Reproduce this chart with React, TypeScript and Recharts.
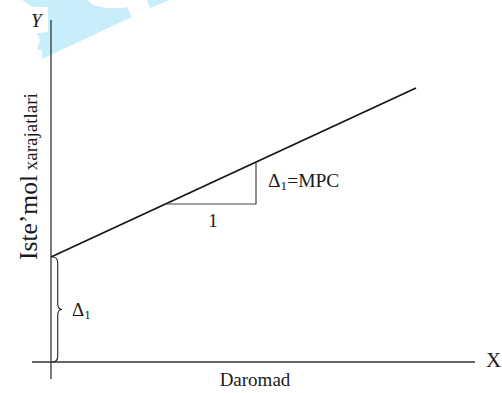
import React from "react";
import {
  ComposedChart,
  Line,
  XAxis,
  YAxis,
  ReferenceLine,
  ReferenceArea,
  ReferenceDot,
} from "recharts";

// 1 unit ~ 10px, origin sits at the axes crossing
const xDomain = [-5.1, 45.1];
const yDomain = [-3.1, 36.2];

const consumptionLine = [
  { x: 0, y: 10.5 },
  { x: 36.5, y: 27.4 },
];
const slopeTriangle = [
  { x: 11.5, y: 15.8 },
  { x: 20.5, y: 15.8 },
  { x: 20.5, y: 19.9 },
];
const yAxisSpan = [
  { x: 0, y: -1.7 },
  { x: 0, y: 34.2 },
];
const xAxisSpan = [
  { x: -1.9, y: 0 },
  { x: 42.4, y: 0 },
];
const braceSpan = { x1: 0.15, x2: 1.1, y1: 0, y2: 10.5 };

// light cyan watermark in the top-left corner
const watermarkMain = [
  { x: -2.9, y: 36.2 },
  { x: 3.6, y: 36.2 },
  { x: 4.2, y: 35.7 },
  { x: 5.4, y: 35.4 },
  { x: 6.9, y: 35.4 },
  { x: 7.6, y: 35.5 },
  { x: 8.1, y: 34.5 },
  { x: -0.9, y: 30.3 },
  { x: -0.9, y: 31.2 },
  { x: -1.4, y: 31.2 },
  { x: -1.1, y: 32.2 },
  { x: -1.4, y: 32.9 },
  { x: -0.3, y: 33.0 },
  { x: -0.3, y: 35.5 },
  { x: -1.8, y: 35.5 },
];
const watermarkTip = [
  { x: 9.6, y: 36.2 },
  { x: 11.9, y: 36.2 },
  { x: 9.9, y: 35.4 },
];

const labels = [
  { key: "Y", x: -2.0, y: 33.5, main: "Y", anchor: "start", italic: true, size: 19 },
  { key: "X", x: 43.5, y: -0.5, main: "X", anchor: "start", size: 21 },
  { key: "daromad", x: 20.4, y: -2.4, main: "Daromad", anchor: "middle", size: 19 },
  { key: "one", x: 16.2, y: 13.5, main: "1", anchor: "middle", size: 19 },
  { key: "mpc", x: 21.7, y: 17.5, main: "Δ", sub: "1", rest: "=MPC", anchor: "start", size: 19.5 },
  { key: "delta", x: 2.1, y: 4.6, main: "Δ", sub: "1", anchor: "start", size: 19 },
];
const yTitleBig = "Iste’mol";
const yTitleSmall = "xarajatlari";
const yTitlePos = { x: -1.4, y: 10.2 };

const FONT = "Liberation Serif, Times New Roman, serif";

function boxMapper(props: any, box: { x1: number; x2: number; y1: number; y2: number }) {
  const { x, y, width, height } = props;
  return (p: { x: number; y: number }) => [
    x + ((p.x - box.x1) / (box.x2 - box.x1)) * width,
    y + ((box.y2 - p.y) / (box.y2 - box.y1)) * height,
  ];
}

function bbox(pts: { x: number; y: number }[]) {
  const xs = pts.map((p) => p.x);
  const ys = pts.map((p) => p.y);
  return { x1: Math.min(...xs), x2: Math.max(...xs), y1: Math.min(...ys), y2: Math.max(...ys) };
}

const polygonShape = (pts: { x: number; y: number }[]) => (props: any) => {
  const map = boxMapper(props, bbox(pts));
  const d = pts.map((p) => map(p).join(",")).join(" ");
  return <polygon points={d} fill="#c8eefb" stroke="none" />;
};

const BraceShape = (props: any) => {
  const { x, y, width, height } = props;
  const x0 = x;
  const x1 = x + width * 0.55;
  const x2 = x + width;
  const ym = y + height / 2;
  const r = 6;
  const d = `M${x0},${y} Q${x1},${y} ${x1},${y + r} L${x1},${ym - r} Q${x1},${ym} ${x2},${ym} Q${x1},${ym} ${x1},${ym + r} L${x1},${y + height - r} Q${x1},${y + height} ${x0},${y + height}`;
  return <path d={d} fill="none" stroke="#222" strokeWidth={1.1} />;
};

const TextShape = (l: any) => (props: any) => {
  const { cx, cy } = props;
  return (
    <text
      x={cx}
      y={cy}
      textAnchor={l.anchor}
      style={{ fontFamily: FONT, fontSize: l.size, fontStyle: l.italic ? "italic" : "normal" }}
      fill="#1a1a1a"
    >
      {l.main}
      {l.sub && (
        <tspan style={{ fontSize: l.size * 0.68 }} dy={3}>
          {l.sub}
        </tspan>
      )}
      {l.rest && <tspan dy={-3}>{l.rest}</tspan>}
    </text>
  );
};

const YTitleShape = (props: any) => {
  const { cx, cy } = props;
  return (
    <text
      x={cx}
      y={cy}
      transform={`rotate(-90 ${cx} ${cy})`}
      textAnchor="start"
      style={{ fontFamily: FONT }}
      fill="#1a1a1a"
    >
      <tspan style={{ fontSize: 25.5 }}>{yTitleBig}</tspan>
      <tspan style={{ fontSize: 19 }}> {yTitleSmall}</tspan>
    </text>
  );
};

export default function App() {
  return (
    <div style={{ position: "absolute", left: 0, top: 0, background: "#fff" }}>
      <ComposedChart
        width={502}
        height={393}
        margin={{ top: 0, right: 0, bottom: 0, left: 0 }}
      >
        <XAxis type="number" dataKey="x" domain={xDomain} hide allowDataOverflow />
        <YAxis type="number" dataKey="y" domain={yDomain} hide allowDataOverflow />

        <ReferenceArea
          {...bbox(watermarkMain)}
          shape={polygonShape(watermarkMain)}
          ifOverflow="visible"
        />
        <ReferenceArea
          {...bbox(watermarkTip)}
          shape={polygonShape(watermarkTip)}
          ifOverflow="visible"
        />

        <ReferenceLine segment={yAxisSpan} stroke="#333" strokeWidth={1.3} ifOverflow="visible" />
        <ReferenceLine segment={xAxisSpan} stroke="#333" strokeWidth={1.3} ifOverflow="visible" />

        <Line
          data={consumptionLine}
          dataKey="y"
          stroke="#151515"
          strokeWidth={1.8}
          dot={false}
          activeDot={false}
          isAnimationActive={false}
        />
        <Line
          data={slopeTriangle}
          dataKey="y"
          stroke="#444"
          strokeWidth={1.2}
          dot={false}
          activeDot={false}
          isAnimationActive={false}
        />

        <ReferenceArea {...braceSpan} shape={BraceShape} ifOverflow="visible" />

        {labels.map((l) => (
          <ReferenceDot
            key={l.key}
            x={l.x}
            y={l.y}
            r={0}
            ifOverflow="visible"
            shape={TextShape(l)}
          />
        ))}
        <ReferenceDot
          x={yTitlePos.x}
          y={yTitlePos.y}
          r={0}
          ifOverflow="visible"
          shape={YTitleShape}
        />
      </ComposedChart>
    </div>
  );
}
